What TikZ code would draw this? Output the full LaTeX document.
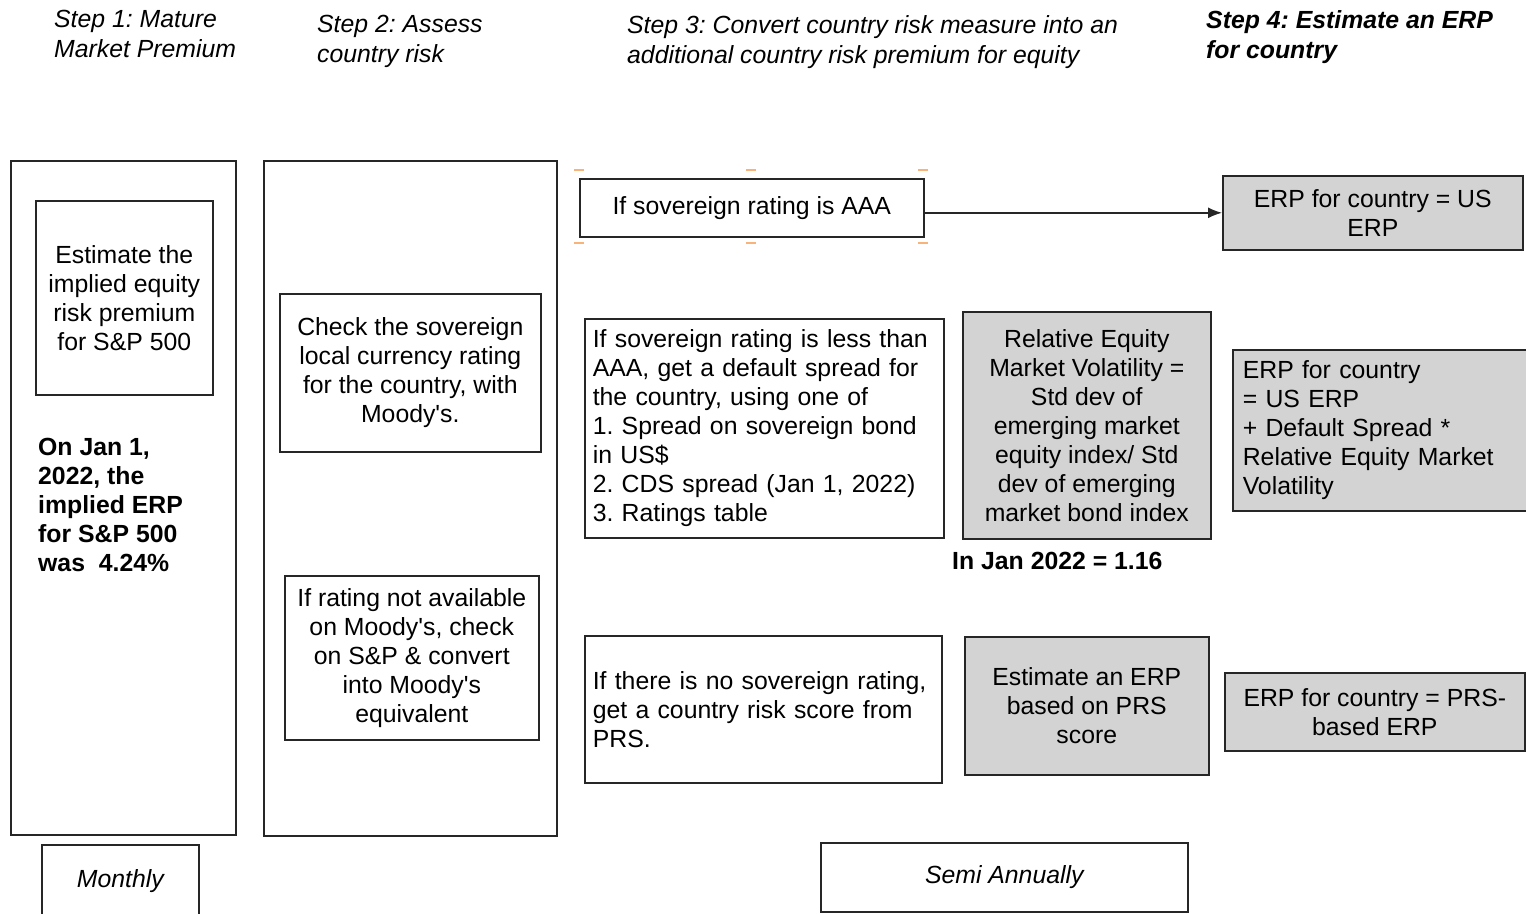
\documentclass[tikz,border=0pt]{standalone}
\usepackage{fontspec}
\setmainfont{Liberation Sans}
\newfontfamily\plainsans{Liberation Sans}
\usetikzlibrary{arrows.meta}
\definecolor{boxgray}{HTML}{D3D3D3}
\definecolor{handle}{HTML}{F7B37A}
\frenchspacing
\newcommand{\apos}{{\plainsans'}}
\begin{document}
\begin{tikzpicture}[x=1pt,y=-1pt,
  every node/.style={font=\fontsize{24.8}{29}\selectfont, inner sep=0pt},
  box/.style={draw=black!85, line width=1.6pt, anchor=north west, align=center},
  gbox/.style={box, fill=boxgray},
  hdr/.style={anchor=north west, align=left, font=\itshape\fontsize{24.8}{30}\selectfont},
  hdrb/.style={anchor=north west, align=left, font=\bfseries\itshape\fontsize{24.8}{30}\selectfont},
  boldtxt/.style={align=left, font=\bfseries\fontsize{24.8}{29}\selectfont},
  conn/.style={draw=black!85, line width=1.5pt, -{Latex[length=14pt,width=11pt]}}]
\useasboundingbox (0,0) rectangle (1526,913);
\clip (0,0) rectangle (1526,913);

% headers
\node[hdr] (h1) at (54,10) {Step 1: Mature\\Market Premium};
\node[hdr] (h2) at (317,15) {Step 2: Assess\\country risk};
\node[hdr] (h3) at (627,15) {Step 3: Convert country risk measure into an\\additional country risk premium for equity};
\node[hdrb] (h4) at (1206,10) {Step 4: Estimate an ERP\\for country};

% column 1
\node[box, minimum width=225pt, minimum height=674pt] (col1) at (10,160) {};
\node[box, minimum width=177pt, minimum height=194pt] (mature) at (35,200) {Estimate the\\implied equity\\risk premium\\for S\&P 500};
\node[boldtxt, anchor=north west] (implied) at (38,438) {On Jan 1,\\2022, the\\implied ERP\\for S\&P 500\\was\ \ 4.24\%};

% column 2
\node[box, minimum width=293pt, minimum height=675pt] (col2) at (263,160) {};
\node[box, minimum width=261pt, minimum height=158pt] (check) at (279,293) {Check the sovereign\\local currency rating\\for the country, with\\Moody\apos s.};
\node[box, minimum width=254pt, minimum height=164pt] (notavail) at (284,575) {If rating not available\\on Moody\apos s, check\\on S\&P \& convert\\into Moody\apos s\\equivalent};

% step 3
\node[box, minimum width=344pt, minimum height=58pt] (aaa) at (579,178) {If sovereign rating is AAA};
\foreach \hx in {579,751,923}{
  \draw[handle, line width=1.2pt] (\hx-5,170) -- (\hx+5,170);
  \draw[handle, line width=1.2pt] (\hx-5,243) -- (\hx+5,243);
}
\node[box, align=left, text width=343pt, minimum width=359pt, minimum height=219pt] (less) at (584,318) {If sovereign rating is less than\\AAA, get a default spread for\\the country, using one of\\1. Spread on sovereign bond\\in US\$\\2. CDS spread (Jan 1, 2022)\\3. Ratings table};
\node[gbox, minimum width=248pt, minimum height=227pt] (rel) at (962,311) {Relative Equity\\Market Volatility =\\Std dev of\\emerging market\\equity index/ Std\\dev of emerging\\market bond index};
\node[boldtxt, anchor=west] (jan) at (952,561) {In Jan 2022 = 1.16};
\node[box, align=left, text width=341pt, minimum width=357pt, minimum height=147pt] (nosov) at (584,635) {If there is no sovereign rating,\\get a country risk score from\\PRS.};
\node[gbox, minimum width=244pt, minimum height=138pt] (prs) at (964,636) {Estimate an ERP\\based on PRS\\score};

% step 4
\node[gbox, minimum width=300pt, minimum height=74pt] (erp1) at (1222,175) {ERP for country = US\\ERP};
\node[gbox, align=left, text width=280pt, minimum width=300pt, minimum height=161pt] (erp2) at (1232,349) {ERP for country\\= US ERP\\+ Default Spread *\\Relative Equity Market\\Volatility};
\node[gbox, minimum width=300pt, minimum height=78pt] (erp3) at (1224,672) {ERP for country = PRS-\\based ERP};

% frequency
\node[box, minimum width=157pt, minimum height=72pt, font=\itshape\fontsize{24.8}{29}\selectfont] (monthly) at (41,844) {Monthly};
\node[box, minimum width=367pt, minimum height=69pt, font=\itshape\fontsize{24.8}{29}\selectfont] (semi) at (820,842) {Semi Annually};

% connector
\draw[conn] (aaa.east |- erp1.west) -- (erp1.west);
\end{tikzpicture}
\end{document}
